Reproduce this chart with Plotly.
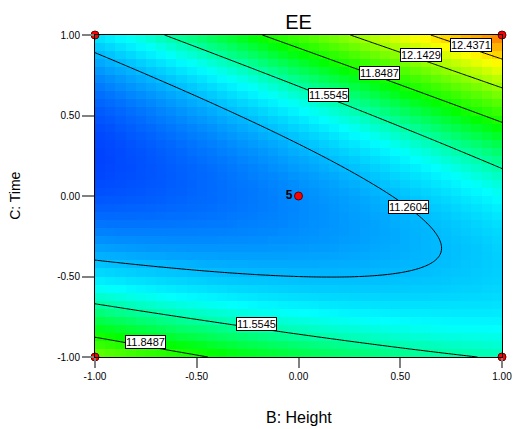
import numpy as np
import plotly.graph_objects as go

# ---- data (quadratic response-surface model for EE) ----
model_terms = ["intercept", "B", "C", "BC", "B2", "C2"]
model_coefs = [11.148, 0.21, 0.123, 0.465, 0.076, 0.695]

contour_levels = [11.2604, 11.5545, 11.8487, 12.1429, 12.4371]
label_levels = ["11.2604", "11.5545", "11.8487", "12.1429", "12.4371", "11.5545", "11.8487"]
label_B = [0.542, 0.149, 0.40, 0.601, 0.846, -0.204, -0.754]
label_C = [-0.069, 0.627, 0.764, 0.876, 0.938, -0.797, -0.909]

design_B = [-1, 1, -1, 1, 0]
design_C = [-1, -1, 1, 1, 0]
design_text = ["", "", "", "", "<b>5</b>"]

tick_vals = [-1.0, -0.5, 0.0, 0.5, 1.0]
tick_text = ["-1.00", "-0.50", "0.00", "0.50", "1.00"]

# colour map anchors (response values): blue, cyan, green, yellow, red
color_anchor_values = [10.82, 11.42, 11.80, 12.36, 12.98]
color_anchor_colors = ["rgb(0,0,255)", "rgb(0,255,255)", "rgb(0,255,0)",
                       "rgb(255,255,0)", "rgb(255,0,0)"]


def surface(b, c):
    a0, kb, kc, kbc, kbb, kcc = model_coefs
    return a0 + kb * b + kc * c + kbc * b * c + kbb * b * b + kcc * c * c


# coarse grid for the shaded map, fine grid for the contour lines
n_cells = 40
edges = np.linspace(-1, 1, n_cells + 1)
centers = (edges[:-1] + edges[1:]) / 2
BB, CC = np.meshgrid(centers, centers)
Z = surface(BB, CC)

fine = np.linspace(-1, 1, 161)
BF, CF = np.meshgrid(fine, fine)
ZF = surface(BF, CF)

zmin, zmax = color_anchor_values[0], color_anchor_values[-1]
cscale = [[(v - zmin) / (zmax - zmin), c]
          for v, c in zip(color_anchor_values, color_anchor_colors)]

fig = go.Figure()
fig.add_trace(go.Heatmap(
    x=centers, y=centers, z=Z, colorscale=cscale, zmin=zmin, zmax=zmax,
    showscale=False, hoverinfo="skip",
))
step = contour_levels[1] - contour_levels[0]
fig.add_trace(go.Contour(
    x=fine, y=fine, z=ZF,
    contours=dict(coloring="none", start=contour_levels[0],
                  end=contour_levels[-1] + 1e-6, size=step, showlabels=False),
    line=dict(color="black", width=1), showscale=False, hoverinfo="skip",
))
fig.add_trace(go.Scatter(
    x=design_B, y=design_C, mode="markers+text", text=design_text,
    textposition="middle left",
    textfont=dict(family="Liberation Sans, Arial", size=12, color="black"),
    marker=dict(color="red", size=8, line=dict(color="#600000", width=1)),
    cliponaxis=False, showlegend=False, hoverinfo="skip",
))

for lv, bx, cy in zip(label_levels, label_B, label_C):
    fig.add_annotation(
        x=bx, y=cy, text=lv, showarrow=False,
        font=dict(family="Liberation Sans, Arial", size=11, color="black"),
        bgcolor="white", bordercolor="black", borderwidth=1, borderpad=0,
    )

fig.add_annotation(
    xref="paper", yref="paper", x=0.5, y=-0.189, text="B: Height",
    showarrow=False, yanchor="middle",
    font=dict(family="Liberation Sans, Arial", size=16, color="black"),
)
fig.add_annotation(
    xref="paper", yref="paper", x=-0.197, y=0.5, text="C: Time",
    showarrow=False, textangle=-90, xanchor="center", yanchor="middle",
    font=dict(family="Liberation Sans, Arial", size=14, color="black"),
)

axis_common = dict(
    tickvals=tick_vals, ticktext=tick_text, ticks="outside",
    tickcolor="#808080", tickwidth=2, showgrid=False, zeroline=False,
    showline=True, linecolor="black", linewidth=1, mirror=True,
    automargin=False, ticklabeloverflow="allow",
    tickfont=dict(family="Liberation Sans, Arial", size=10, color="black"),
)
fig.update_xaxes(range=[-1, 1], ticklen=10, **axis_common)
fig.update_yaxes(range=[-1, 1], ticklen=12, **axis_common)

fig.update_layout(
    width=514, height=429, autosize=False,
    margin=dict(l=95, r=12, t=35, b=72, autoexpand=False),
    paper_bgcolor="white", plot_bgcolor="white",
    title=dict(text="EE", x=0.5, xref="paper", y=1 - 22 / 429, yanchor="middle",
               font=dict(family="Liberation Sans, Arial", size=20, color="black")),
    showlegend=False,
)

fig.write_html(
    "out.html",
    config={"responsive": False, "displayModeBar": False, "staticPlot": True},
    post_script="document.body.style.margin='0';document.body.style.padding='0';"
                "document.body.style.overflow='hidden';",
)
